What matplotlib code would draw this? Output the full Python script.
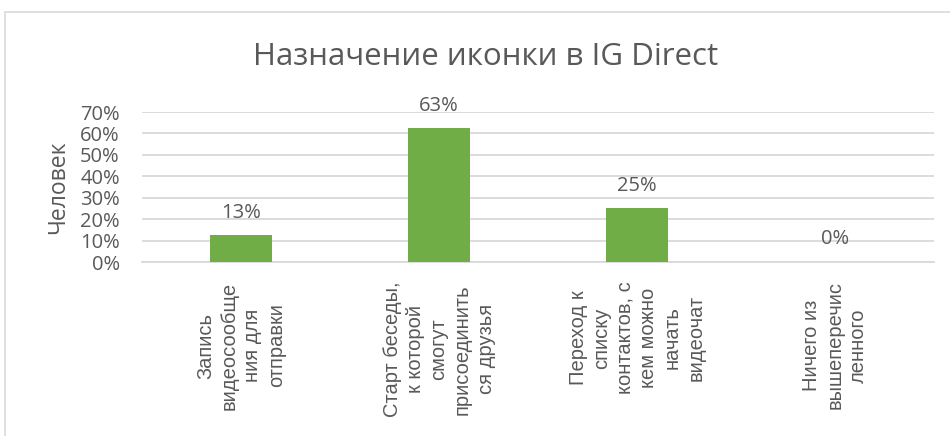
import matplotlib.pyplot as plt
from matplotlib.patches import Rectangle

# data
categories = [
    "Запись\nвидеосообще\nния для\nотправки",
    "Старт беседы,\nк которой\nсмогут\nприсоединить\nся друзья",
    "Переход к\nсписку\nконтактов, с\nкем можно\nначать\nвидеочат",
    "Ничего из\nвышеперечис\nленного",
]
shares = [0.125, 0.625, 0.25, 0.0]
y_ticks = [0, 0.1, 0.2, 0.3, 0.4, 0.5, 0.6, 0.7]

text_color = "#595959"
grid_color = "#D9D9D9"
bar_color = "#70AD47"

fig = plt.figure(figsize=(9.5, 4.36), dpi=100)
ax = fig.add_axes([142/950, 1 - 262/436, (934-142)/950, (262-112)/436])

x = list(range(len(categories)))
bars = ax.bar(x, shares, width=0.31, color=bar_color, zorder=3)

ax.set_xlim(-0.5, len(categories) - 0.5)
ax.set_ylim(0, 0.7)
ax.set_yticks(y_ticks)
ax.set_yticklabels([f"{int(round(t*100))}%" for t in y_ticks],
                   fontsize=14.5, color=text_color, family="Open Sans")
ax.yaxis.grid(True, color=grid_color, linewidth=1.3, zorder=0)
ax.tick_params(axis="both", length=0)
ax.tick_params(axis="y", pad=16)

ax.set_xticks(x)
ax.set_xticklabels(categories, rotation=90, ha="center", va="top",
                   multialignment="center", fontsize=14.5,
                   color=text_color, family="Liberation Sans", linespacing=1.3)
ax.tick_params(axis="x", pad=14)

for s in ["top", "right", "left"]:
    ax.spines[s].set_visible(False)
ax.spines["bottom"].set_color(grid_color)
ax.spines["bottom"].set_linewidth(1.3)

ax.bar_label(bars, labels=[f"{int(v*100 + 0.5)}%" for v in shares],
             padding=9, fontsize=14.5, color=text_color, family="Open Sans")

ax.set_ylabel("Человек", fontsize=16.5, color=text_color, family="Open Sans")
ax.yaxis.set_label_coords(-72/792, 0.5)

fig.text(486/950, 1 - 57/436, "Назначение иконки в IG Direct",
         ha="center", va="center", fontsize=22.5, color=text_color,
         family="Open Sans")

# chart frame
fig.patches.append(Rectangle((5/950, -0.1), 1.1, 1.1 - 12/436,
                             transform=fig.transFigure, fill=False,
                             edgecolor=grid_color, linewidth=1.2))

fig.savefig("out.png", dpi=100)
